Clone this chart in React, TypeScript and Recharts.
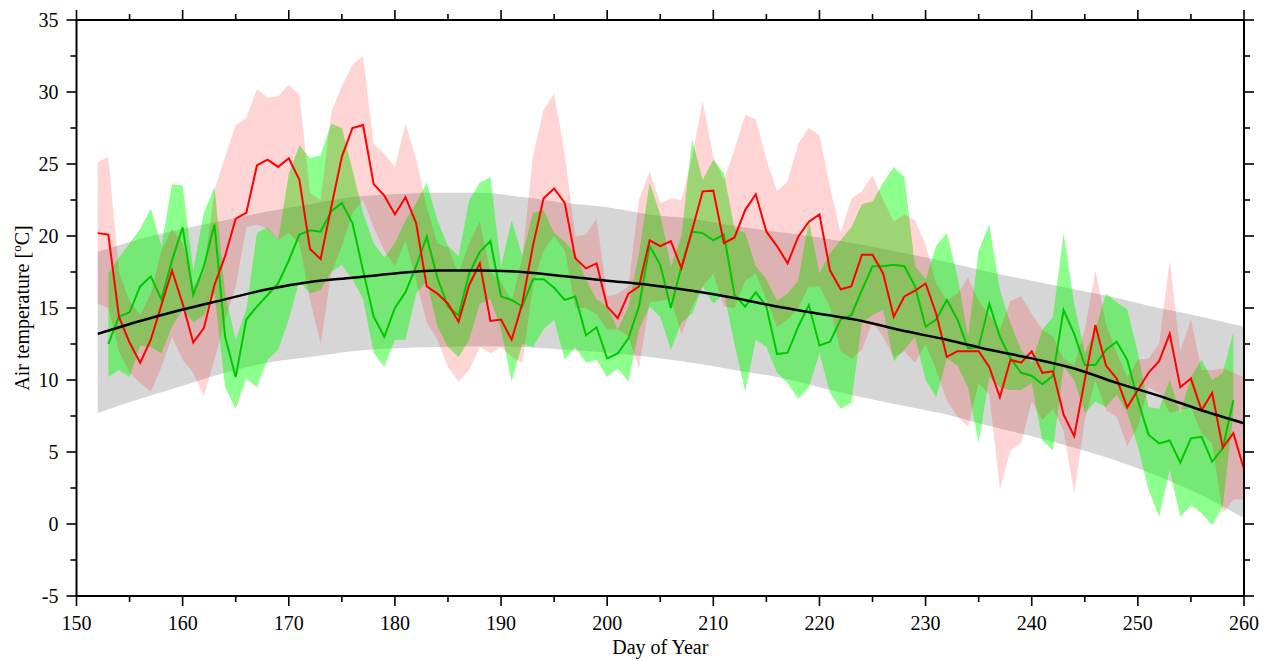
import React from 'react';
import { ComposedChart, Line, Area, XAxis, YAxis } from 'recharts';

const days = [152, 153, 154, 155, 156, 157, 158, 159, 160, 161, 162, 163, 164, 165, 166, 167, 168, 169, 170, 171, 172, 173, 174, 175, 176, 177, 178, 179, 180, 181, 182, 183, 184, 185, 186, 187, 188, 189, 190, 191, 192, 193, 194, 195, 196, 197, 198, 199, 200, 201, 202, 203, 204, 205, 206, 207, 208, 209, 210, 211, 212, 213, 214, 215, 216, 217, 218, 219, 220, 221, 222, 223, 224, 225, 226, 227, 228, 229, 230, 231, 232, 233, 234, 235, 236, 237, 238, 239, 240, 241, 242, 243, 244, 245, 246, 247, 248, 249, 250, 251, 252, 253, 254, 255, 256, 257, 258, 259, 260];

const redMean = [20.2, 20.1, 14.4, 12.6, 11.2, 12.8, 15.2, 17.6, 15.3, 12.6, 13.6, 16.6, 18.6, 21.2, 21.6, 24.9, 25.3, 24.8, 25.4, 23.9, 19.1, 18.4, 22.0, 25.5, 27.5, 27.7, 23.6, 22.8, 21.5, 22.7, 20.9, 16.5, 16.0, 15.3, 14.05, 16.6, 18.1, 14.1, 14.2, 12.8, 15.3, 19.3, 22.6, 23.3, 22.3, 18.45, 17.75, 18.1, 15.1, 14.3, 16.0, 16.5, 19.7, 19.3, 19.65, 17.75, 20.4, 23.1, 23.15, 19.5, 19.9, 21.8, 22.9, 20.3, 19.3, 18.1, 19.95, 21.0, 21.5, 17.6, 16.3, 16.5, 18.7, 18.7, 17.4, 14.4, 15.8, 16.2, 16.7, 14.6, 11.6, 12.0, 12.0, 12.0, 10.9, 8.8, 11.4, 11.2, 12.0, 10.5, 10.6, 7.6, 6.1, 10.0, 13.8, 11.0, 10.1, 8.1, 9.3, 10.5, 11.3, 13.2, 9.5, 10.1, 7.9, 9.1, 5.3, 6.3, 3.8];

const redHi = [25.1, 25.5, 17.5, 15.5, 14.5, 16.0, 19.0, 20.5, 19.5, 16.5, 17.5, 23.2, 25.5, 27.7, 28.2, 30.2, 29.6, 29.7, 30.5, 29.8, 23.0, 22.5, 28.6, 30.4, 31.9, 32.5, 26.4, 25.7, 24.8, 27.8, 25.4, 22.0, 19.5, 19.2, 17.4, 19.5, 21.0, 17.5, 16.8, 15.5, 18.5, 25.5, 28.75, 29.9, 25.7, 19.95, 20.1, 21.2, 15.8, 16.0, 16.5, 22.5, 24.5, 22.3, 22.6, 22.5, 25.5, 29.4, 25.5, 23.9, 26.0, 28.4, 28.1, 25.3, 23.1, 23.8, 26.4, 27.5, 27.0, 23.4, 20.2, 22.6, 23.1, 24.2, 22.5, 21.0, 21.5, 21.1, 19.4, 16.7, 15.5, 16.0, 17.1, 15.5, 14.5, 13.5, 15.5, 15.8, 14.6, 13.5, 13.0, 11.5, 11.0, 13.5, 17.6, 13.9, 11.85, 10.2, 11.4, 11.5, 12.5, 18.3, 12.0, 14.2, 10.7, 10.7, 10.8, 10.5, 10.2];

const redLo = [15.3, 15.0, 12.0, 10.5, 9.8, 9.2, 10.9, 13.0, 11.4, 10.5, 8.9, 11.4, 14.2, 16.5, 20.6, 20.8, 20.5, 19.7, 20.2, 19.5, 15.6, 12.5, 17.4, 19.3, 21.6, 22.5, 20.6, 19.0, 17.9, 19.7, 16.9, 14.0, 12.8, 10.9, 9.9, 10.7, 12.3, 11.85, 12.3, 11.6, 11.2, 16.5, 19.0, 20.0, 19.0, 15.0, 15.0, 14.6, 13.5, 13.5, 13.0, 10.8, 15.4, 15.5, 15.6, 13.2, 15.1, 16.5, 17.4, 15.1, 15.0, 16.9, 17.4, 15.6, 13.7, 14.2, 15.0, 16.5, 16.5, 15.1, 12.0, 11.5, 12.1, 14.0, 13.0, 11.6, 12.0, 11.2, 12.5, 10.7, 8.6, 7.45, 6.75, 9.8, 9.0, 2.4, 5.1, 5.6, 8.5, 7.2, 8.0, 6.5, 2.1, 7.2, 10.0, 7.9, 7.45, 5.4, 6.75, 9.5, 9.1, 7.7, 7.9, 8.1, 6.3, 5.6, 0.74, 1.7, 1.7];

const greenMean = [null, 12.5, 14.4, 14.7, 16.5, 17.2, 15.6, 18.3, 20.6, 15.9, 17.9, 20.8, 13.0, 10.2, 14.2, 15.1, 15.9, 16.7, 18.3, 20.1, 20.4, 20.3, 21.7, 22.3, 20.9, 17.6, 14.4, 13.0, 15.0, 16.1, 17.9, 19.95, 17.1, 15.1, 14.5, 17.4, 18.9, 19.65, 15.8, 15.56, 15.1, 17.0, 17.0, 16.4, 15.56, 15.8, 13.1, 13.66, 11.5, 11.85, 12.9, 15.1, 19.3, 18.0, 15.0, 17.9, 20.3, 20.2, 19.7, 20.1, 15.9, 15.1, 16.1, 15.1, 11.8, 11.9, 13.7, 15.2, 12.4, 12.66, 14.2, 14.5, 16.25, 17.9, 17.9, 18.0, 17.9, 16.5, 13.7, 14.2, 15.56, 14.2, 12.2, 12.3, 15.3, 13.0, 11.5, 10.5, 10.3, 9.7, 10.3, 14.86, 13.2, 11.04, 11.04, 12.1, 12.66, 11.4, 8.6, 6.2, 5.6, 5.8, 4.26, 5.95, 6.06, 4.33, 5.26, 8.6, null];

const greenHi = [null, 17.4, 18.5, 19.5, 20.5, 21.9, 19.3, 23.6, 23.5, 17.6, 21.6, 23.4, 16.0, 12.8, 14.9, 20.2, 20.6, 19.7, 24.3, 26.3, 25.4, 25.6, 27.8, 27.5, 24.6, 21.6, 19.5, 18.5, 19.5, 21.1, 22.3, 23.7, 21.1, 19.3, 18.6, 22.5, 23.7, 24.1, 17.9, 21.1, 18.6, 21.6, 21.8, 20.2, 19.6, 18.8, 17.0, 15.6, 15.1, 13.5, 15.1, 18.8, 23.7, 21.5, 17.9, 20.0, 26.7, 23.9, 25.3, 24.35, 20.5, 20.2, 17.9, 17.0, 15.5, 16.0, 16.9, 21.1, 17.4, 18.8, 19.7, 20.6, 22.2, 22.4, 23.7, 24.8, 24.1, 17.9, 17.0, 19.3, 20.2, 17.2, 13.0, 19.0, 20.8, 16.25, 13.9, 12.1, 11.2, 13.5, 14.4, 20.2, 15.3, 11.9, 13.5, 16.0, 15.4, 14.9, 11.9, 8.1, 8.0, 10.0, 7.7, 10.2, 11.4, 10.0, 10.5, 13.35, null];

const greenLo = [null, 10.2, 10.7, 10.2, 12.4, 12.3, 11.85, 13.7, 14.9, 14.0, 14.5, 16.0, 9.5, 8.0, 10.1, 9.5, 11.4, 12.1, 14.2, 16.9, 16.0, 16.25, 17.5, 18.0, 17.0, 15.6, 11.9, 10.9, 12.8, 12.8, 16.0, 16.9, 13.7, 12.3, 11.6, 12.8, 15.3, 15.6, 13.5, 9.9, 12.5, 12.3, 13.5, 14.2, 11.4, 12.3, 11.2, 11.4, 10.2, 10.8, 9.9, 13.5, 15.1, 14.4, 12.1, 14.0, 14.6, 16.5, 15.3, 16.0, 12.5, 9.2, 12.8, 12.3, 10.5, 9.8, 8.7, 9.5, 11.85, 9.1, 8.0, 8.4, 14.0, 14.5, 14.9, 11.3, 12.1, 13.0, 10.0, 8.8, 11.5, 11.0, 9.5, 5.6, 10.2, 9.5, 9.3, 9.3, 9.8, 5.8, 5.1, 10.9, 10.0, 7.7, 8.5, 8.1, 9.0, 7.7, 5.4, 2.4, 0.5, 3.75, 0.5, 1.3, 0.74, -0.07, 1.2, 7.7, null];

const fitDays = [152, 156, 160, 164, 168, 172, 176, 180, 184, 188, 192, 196, 200, 204, 208, 212, 216, 220, 224, 228, 232, 236, 240, 244, 248, 252, 256, 260];
const fitMean = [13.2, 14.1, 14.9, 15.6, 16.3, 16.8, 17.1, 17.4, 17.6, 17.6, 17.5, 17.2, 16.9, 16.6, 16.2, 15.7, 15.1, 14.6, 14.1, 13.4, 12.8, 12.1, 11.5, 10.8, 9.8, 8.9, 7.9, 7.0];
const fitHi = [18.9, 19.8, 20.5, 21.1, 21.7, 22.2, 22.7, 22.9, 23.0, 23.0, 22.7, 22.3, 22.0, 21.5, 21.2, 20.7, 20.3, 19.9, 19.4, 18.8, 18.2, 17.5, 16.9, 16.3, 15.7, 15.0, 14.4, 13.7];
const fitLo = [7.7, 8.7, 9.6, 10.5, 11.2, 11.6, 12.0, 12.2, 12.3, 12.35, 12.3, 12.1, 11.9, 11.6, 11.2, 10.7, 10.2, 9.5, 8.8, 8.2, 7.6, 6.8, 6.1, 5.3, 4.4, 3.3, 2.0, 0.4];

const xTicks = [150, 155, 160, 165, 170, 175, 180, 185, 190, 195, 200, 205, 210, 215, 220, 225, 230, 235, 240, 245, 250, 255, 260];
const yTicks = [-5, -2.5, 0, 2.5, 5, 7.5, 10, 12.5, 15, 17.5, 20, 22.5, 25, 27.5, 30, 32.5, 35];

const table = days.map((d, i) => ({
  day: d,
  red: redMean[i],
  green: greenMean[i],
  redBand: [redLo[i], redHi[i]],
  greenBand: greenLo[i] == null ? null : [greenLo[i], greenHi[i]],
}));

const fitTable = fitDays.map((d, i) => ({ day: d, fit: fitMean[i], fitBand: [fitLo[i], fitHi[i]] }));

const FONT = '"Liberation Serif", "Times New Roman", serif';

const makeTick = (side: string, labels: boolean) => (props: any) => {
  const { x, y, payload } = props;
  const v = payload.value;
  const isX = side === 'bottom' || side === 'top';
  const major = isX ? v % 10 === 0 : v % 5 === 0;
  const len = major ? 10 : 6;
  let line;
  if (side === 'bottom') line = <line x1={x} y1={y} x2={x} y2={y + len} stroke="#000" strokeWidth={1.6} />;
  else if (side === 'top') line = <line x1={x} y1={y} x2={x} y2={y - len} stroke="#000" strokeWidth={1.6} />;
  else if (side === 'left') line = <line x1={x} y1={y} x2={x - len} y2={y} stroke="#000" strokeWidth={1.6} />;
  else line = <line x1={x} y1={y} x2={x + len} y2={y} stroke="#000" strokeWidth={1.6} />;
  let label = null;
  if (labels && major) {
    if (side === 'bottom')
      label = (
        <text x={x} y={y + 34} textAnchor="middle" fontSize={20} fontFamily={FONT} fill="#000">
          {v}
        </text>
      );
    else if (side === 'left')
      label = (
        <text x={x - 18} y={y + 7} textAnchor="end" fontSize={20} fontFamily={FONT} fill="#000">
          {v}
        </text>
      );
  }
  return (
    <g>
      {line}
      {label}
    </g>
  );
};

const XTitle = (props: any) => {
  const vb = props.viewBox || {};
  return (
    <text x={vb.x + vb.width / 2} y={vb.y + 58} textAnchor="middle" fontSize={20} fontFamily={FONT} fill="#000">
      Day of Year
    </text>
  );
};

const YTitle = (props: any) => {
  const vb = props.viewBox || {};
  const cx = vb.x + 12;
  const cy = vb.y + vb.height / 2;
  return (
    <text x={cx} y={cy} textAnchor="middle" fontSize={20} fontFamily={FONT} fill="#000" transform={`rotate(-90 ${cx} ${cy})`}>
      Air temperature [
      <tspan fontSize={13} dy={-8}>o</tspan>
      <tspan fontSize={20} dy={8}>C]</tspan>
    </text>
  );
};

export default function App() {
  return (
    <div style={{ position: 'absolute', left: 0, top: 0, width: 1265, height: 661, background: '#fff' }}>
      <ComposedChart width={1265} height={661} data={table} margin={{ top: 19, right: 20, bottom: 25, left: 16.5 }}>
        <XAxis
          xAxisId="b"
          dataKey="day"
          type="number"
          domain={[150, 260]}
          ticks={xTicks}
          interval={0}
          allowDataOverflow
          height={40}
          tickSize={0}
          tickMargin={0}
          tickLine={false}
          axisLine={{ stroke: '#000', strokeWidth: 2 }}
          tick={makeTick('bottom', true)}
          label={<XTitle />}
        />
        <XAxis
          xAxisId="t"
          orientation="top"
          dataKey="day"
          type="number"
          domain={[150, 260]}
          ticks={xTicks}
          interval={0}
          allowDataOverflow
          height={1}
          tickSize={0}
          tickMargin={0}
          tickLine={false}
          axisLine={{ stroke: '#000', strokeWidth: 2 }}
          tick={makeTick('top', false)}
        />
        <YAxis
          yAxisId="l"
          type="number"
          domain={[-5, 35]}
          ticks={yTicks}
          interval={0}
          allowDataOverflow
          width={60}
          tickSize={0}
          tickMargin={0}
          tickLine={false}
          axisLine={{ stroke: '#000', strokeWidth: 2 }}
          tick={makeTick('left', true)}
          label={<YTitle />}
        />
        <YAxis
          yAxisId="r"
          orientation="right"
          type="number"
          domain={[-5, 35]}
          ticks={yTicks}
          interval={0}
          allowDataOverflow
          width={1}
          tickSize={0}
          tickMargin={0}
          tickLine={false}
          axisLine={{ stroke: '#000', strokeWidth: 2 }}
          tick={makeTick('right', false)}
        />
        <Area
          xAxisId="b"
          yAxisId="l"
          data={fitTable}
          dataKey="fitBand"
          type="monotone"
          stroke="none"
          fill="#d6d6d6"
          fillOpacity={1}
          isAnimationActive={false}
        />
        <Area
          xAxisId="b"
          yAxisId="l"
          dataKey="greenBand"
          type="linear"
          stroke="none"
          fill="#00ff00"
          fillOpacity={0.45}
          isAnimationActive={false}
        />
        <Area
          xAxisId="b"
          yAxisId="l"
          dataKey="redBand"
          type="linear"
          stroke="none"
          fill="#ff0000"
          fillOpacity={0.17}
          isAnimationActive={false}
        />
        <Line
          xAxisId="b"
          yAxisId="l"
          dataKey="green"
          type="linear"
          stroke="#00c800"
          strokeWidth={2}
          dot={false}
          isAnimationActive={false}
        />
        <Line
          xAxisId="b"
          yAxisId="l"
          dataKey="red"
          type="linear"
          stroke="#ff0000"
          strokeWidth={2}
          dot={false}
          isAnimationActive={false}
        />
        <Line
          xAxisId="b"
          yAxisId="l"
          data={fitTable}
          dataKey="fit"
          type="monotone"
          stroke="#000"
          strokeWidth={2.5}
          dot={false}
          isAnimationActive={false}
        />
      </ComposedChart>
    </div>
  );
}
